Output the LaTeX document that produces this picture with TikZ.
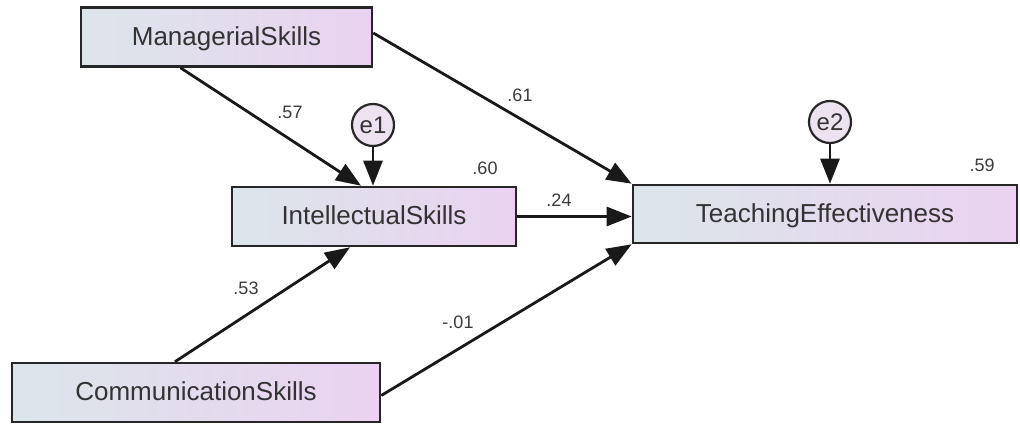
\documentclass[tikz,border=0pt]{standalone}
\usepackage{fontspec}
\setmainfont{Liberation Sans}
\usetikzlibrary{arrows.meta,calc}

\definecolor{boxleft}{HTML}{DCE6EA}
\definecolor{boxright}{HTML}{EAD2F0}
\definecolor{errfill}{HTML}{EDE3F0}
\definecolor{txt}{HTML}{333333}
\definecolor{lbl}{HTML}{3A3A3A}

\tikzset{
  varbox/.style={draw=black!85, line width=2.6pt, rectangle,
    left color=boxleft, right color=boxright,
    font=\fontsize{26}{28}\selectfont, text=txt, inner sep=0pt,
    text depth=2pt},
  errnode/.style={draw=black!85, line width=2.2pt, circle, fill=errfill,
    minimum size=42pt, inner sep=0pt,
    font=\fontsize{24}{26}\selectfont, text=txt},
  path/.style={draw=black!90, line width=2.8pt,
    -{Triangle[length=25pt,width=19pt]}},
  coef/.style={font=\fontsize{18}{20}\selectfont, text=lbl, inner sep=0pt}
}

\begin{document}
\begin{tikzpicture}[x=1pt,y=-1pt]
  \useasboundingbox (0,0) rectangle (1020,423);

  % observed variables
  \node[varbox, minimum width=291pt, minimum height=59pt] (M) at (226.5,37) {ManagerialSkills};
  \node[varbox, minimum width=284pt, minimum height=59pt] (I) at (374,216.5) {IntellectualSkills};
  \node[varbox, minimum width=384pt, minimum height=58pt] (T) at (825,214) {TeachingEffectiveness};
  \node[varbox, minimum width=368pt, minimum height=59pt] (C) at (196,392.5) {CommunicationSkills};

  % error terms
  \node[errnode] (e1) at (373,125) {e1};
  \node[errnode] (e2) at (830,122) {e2};

  % regression paths
  \draw[path] ([xshift=-46pt]M.south) -- ([xshift=-13pt]I.north);
  \draw[path] ([yshift=4pt]M.east) -- (T.north west);
  \draw[path] (I.east) -- (I.east -| T.west);
  \draw[path] ([xshift=-21pt]C.north) -- ([xshift=-24pt]I.south);
  \draw[path] ([yshift=-3pt]C.east) -- (T.south west);
  \draw[path] (e1) -- (e1 |- I.north);
  \draw[path] (e2) -- (e2 |- T.north);

  % coefficients
  \node[coef] (c57) at (290,112) {.57};
  \node[coef] (c61) at (520,95) {.61};
  \node[coef] (c60) at (485,168) {.60};
  \node[coef] (c24) at (559,200) {.24};
  \node[coef] (c53) at (246,288) {.53};
  \node[coef] (c01) at (458,322) {-.01};
  \node[coef] (c59) at (982,165) {.59};
\end{tikzpicture}
\end{document}
